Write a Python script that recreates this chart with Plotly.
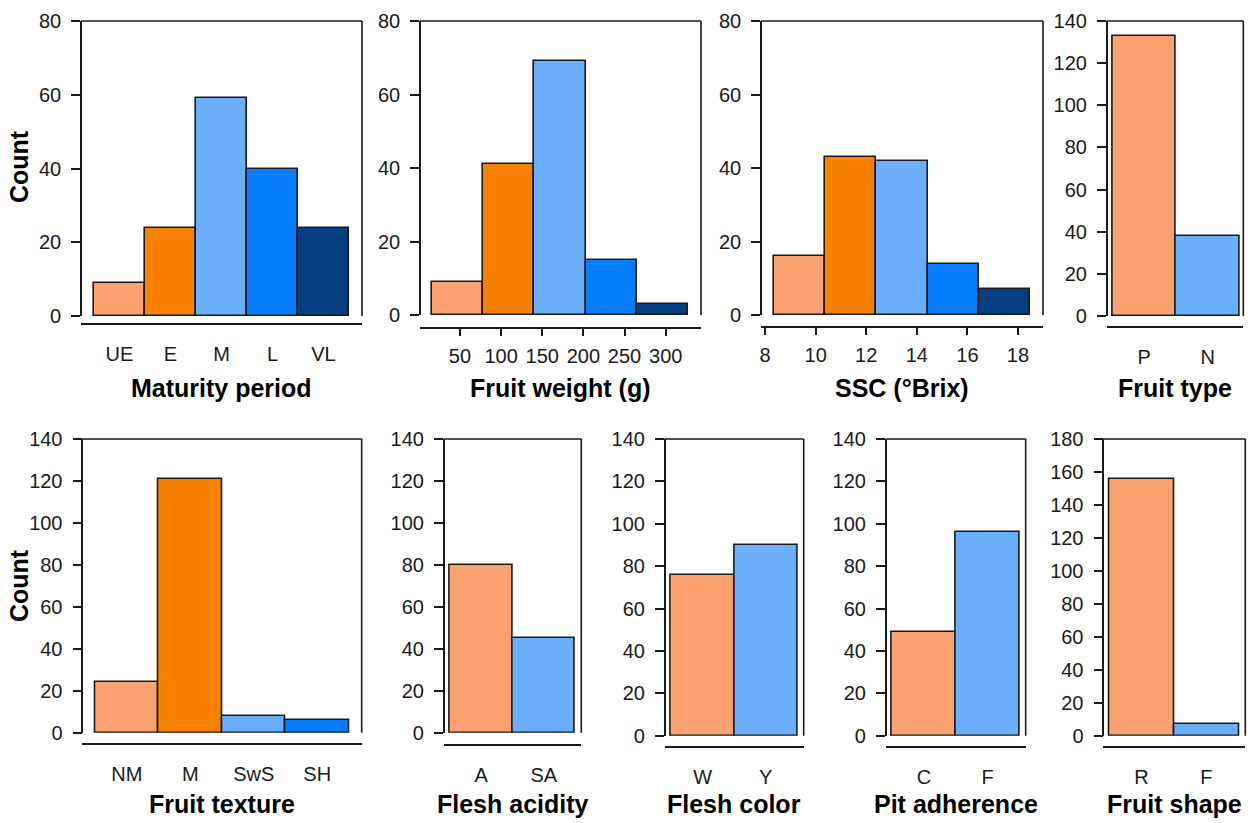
import plotly.graph_objects as go

# ---------------- data ----------------
maturity_labels = ["UE", "E", "M", "L", "VL"]
maturity_counts = [9, 24, 59, 40, 24]

weight_edges = [16.3, 78.4, 140.5, 202.6, 264.7, 326.8]
weight_counts = [9, 41, 69, 15, 3]
weight_ticks = [50, 100, 150, 200, 250, 300]

ssc_edges = [8.34, 10.37, 12.40, 14.43, 16.46, 18.49]
ssc_counts = [16, 43, 42, 14, 7]
ssc_ticks = [8, 10, 12, 14, 16, 18]

fruit_type_labels = ["P", "N"]
fruit_type_counts = [133, 38]

texture_labels = ["NM", "M", "SwS", "SH"]
texture_counts = [24, 121, 8, 6]

acidity_labels = ["A", "SA"]
acidity_counts = [80, 45]

flesh_color_labels = ["W", "Y"]
flesh_color_counts = [76, 90]

pit_labels = ["C", "F"]
pit_counts = [49, 96]

shape_labels = ["R", "F"]
shape_counts = [156, 7]

SALMON, ORANGE, LIGHTBLUE, BLUE, NAVY = "#FBA172", "#F88200", "#69AFFE", "#087CFE", "#053F80"
five_colors = [SALMON, ORANGE, LIGHTBLUE, BLUE, NAVY]
four_colors = [SALMON, ORANGE, LIGHTBLUE, BLUE]
two_colors = [SALMON, LIGHTBLUE]

# ---------------- layout geometry (pixels) ----------------
W, H = 1253, 823
FONT = "Liberation Sans, Arial, Helvetica, sans-serif"
INK = "#1a1a1a"


def px(x):
    return x / W


def py(y):
    return 1 - y / H


panels = [
    dict(title="Maturity period", kind="cat", labels=maturity_labels, counts=maturity_counts, colors=five_colors,
         xp=(81, 362), yp=(21, 316), xline=324, ymax=80, xr=[-0.255, 5.255]),
    dict(title="Fruit weight (g)", kind="hist", edges=weight_edges, counts=weight_counts, ticks=weight_ticks,
         colors=five_colors, xp=(420, 701), yp=(21, 315), xline=328, ymax=80, xr=[1.4, 342.9]),
    dict(title="SSC (°Brix)", kind="hist", edges=ssc_edges, counts=ssc_counts, ticks=ssc_ticks,
         colors=five_colors, xp=(761, 1043), yp=(21, 315), xline=327, ymax=80, xr=[7.84, 18.99]),
    dict(title="Fruit type", kind="cat", labels=fruit_type_labels, counts=fruit_type_counts, colors=two_colors,
         xp=(1106.7, 1243.3), yp=(21, 316), xline=327, ymax=140, xr=[-0.088, 2.057]),
    dict(title="Fruit texture", kind="cat", labels=texture_labels, counts=texture_counts, colors=four_colors,
         xp=(82.3, 361.7), yp=(439, 732.7), xline=744, ymax=140, xr=[-0.2, 4.2]),
    dict(title="Flesh acidity", kind="cat", labels=acidity_labels, counts=acidity_counts, colors=two_colors,
         xp=(443.7, 581.3), yp=(439, 732.7), xline=745, ymax=140, xr=[-0.1, 2.1]),
    dict(title="Flesh color", kind="cat", labels=flesh_color_labels, counts=flesh_color_counts, colors=two_colors,
         xp=(664.7, 803.7), yp=(439, 735.7), xline=747.3, ymax=140, xr=[-0.1, 2.1]),
    dict(title="Pit adherence", kind="cat", labels=pit_labels, counts=pit_counts, colors=two_colors,
         xp=(885.7, 1025.7), yp=(439, 735.7), xline=746.7, ymax=140, xr=[-0.1, 2.1]),
    dict(title="Fruit shape", kind="cat", labels=shape_labels, counts=shape_counts, colors=two_colors,
         xp=(1103.3, 1245.3), yp=(439, 735.7), xline=746.7, ymax=180, xr=[-0.09, 2.1]),
]

fig = go.Figure()
shapes = []
annotations = []

for i, p in enumerate(panels, start=1):
    sfx = "" if i == 1 else str(i)
    xname, yname = "x" + sfx, "y" + sfx
    n = len(p["counts"])
    if p["kind"] == "cat":
        xs = [k + 0.5 for k in range(n)]
        ws = [1.0] * n
        tickvals = xs
        ticktext = p["labels"]
        ticks = ""
        standoff = 12
    else:
        e = p["edges"]
        xs = [(e[k] + e[k + 1]) / 2 for k in range(n)]
        ws = [e[k + 1] - e[k] for k in range(n)]
        tickvals = p["ticks"]
        ticktext = [str(t) for t in p["ticks"]]
        ticks = "outside"
        standoff = 3
    fig.add_trace(go.Bar(
        x=xs, y=p["counts"], width=ws,
        marker=dict(color=p["colors"], line=dict(color=INK, width=1.6)),
        xaxis=xname, yaxis=yname, showlegend=False, hoverinfo="skip",
    ))
    x0, x1 = p["xp"]
    ytop, ybot = p["yp"]
    fig.update_layout(**{
        "xaxis" + sfx: dict(
            domain=[px(x0), px(x1)], anchor="free", position=py(p["xline"]),
            range=p["xr"], showline=True, linewidth=2, linecolor=INK,
            showgrid=False, zeroline=False, ticks=ticks, ticklen=7, tickwidth=1.5,
            tickcolor=INK, tickvals=tickvals, ticktext=ticktext,
            tickfont=dict(family=FONT, size=20, color=INK), ticklabelstandoff=standoff,
            automargin=False, fixedrange=True,
        ),
        "yaxis" + sfx: dict(
            domain=[py(ybot), py(ytop)], anchor="free", position=px(x0),
            range=[0, p["ymax"]], tickvals=list(range(0, p["ymax"] + 1, 20)),
            showline=True, linewidth=1.6, linecolor=INK, showgrid=False, zeroline=False,
            ticks="outside", ticklen=9, tickwidth=1.5, tickcolor=INK,
            tickfont=dict(family=FONT, size=20, color=INK), ticklabelstandoff=6,
            automargin=False, fixedrange=True,
        ),
    })
    xref, yref = xname + " domain", yname + " domain"
    shapes.append(dict(type="line", xref=xref, yref=yref, x0=0, x1=1, y0=1, y1=1,
                       line=dict(color=INK, width=1.6)))
    shapes.append(dict(type="line", xref=xref, yref=yref, x0=1, x1=1, y0=0, y1=1,
                       line=dict(color=INK, width=1.6)))
    title_y = 388 if ytop < 200 else 804
    annotations.append(dict(text="<b>" + p["title"] + "</b>", xref="paper", yref="paper",
                            x=px((x0 + x1) / 2), y=py(title_y), xanchor="center", yanchor="middle",
                            showarrow=False, font=dict(family=FONT, size=25, color="#000")))

for cy in (167, 586):
    annotations.append(dict(text="<b>Count</b>", xref="paper", yref="paper",
                            x=px(19), y=py(cy), xanchor="center", yanchor="middle",
                            textangle=-90, showarrow=False,
                            font=dict(family=FONT, size=25, color="#000")))

fig.update_layout(
    width=W, height=H, margin=dict(l=0, r=0, t=0, b=0, autoexpand=False),
    paper_bgcolor="white", plot_bgcolor="white",
    shapes=shapes, annotations=annotations, bargap=0, showlegend=False,
)

fig.write_html(
    "out.html",
    config={"displayModeBar": False},
    post_script="document.body.style.margin='0';document.body.style.overflow='hidden';",
)
